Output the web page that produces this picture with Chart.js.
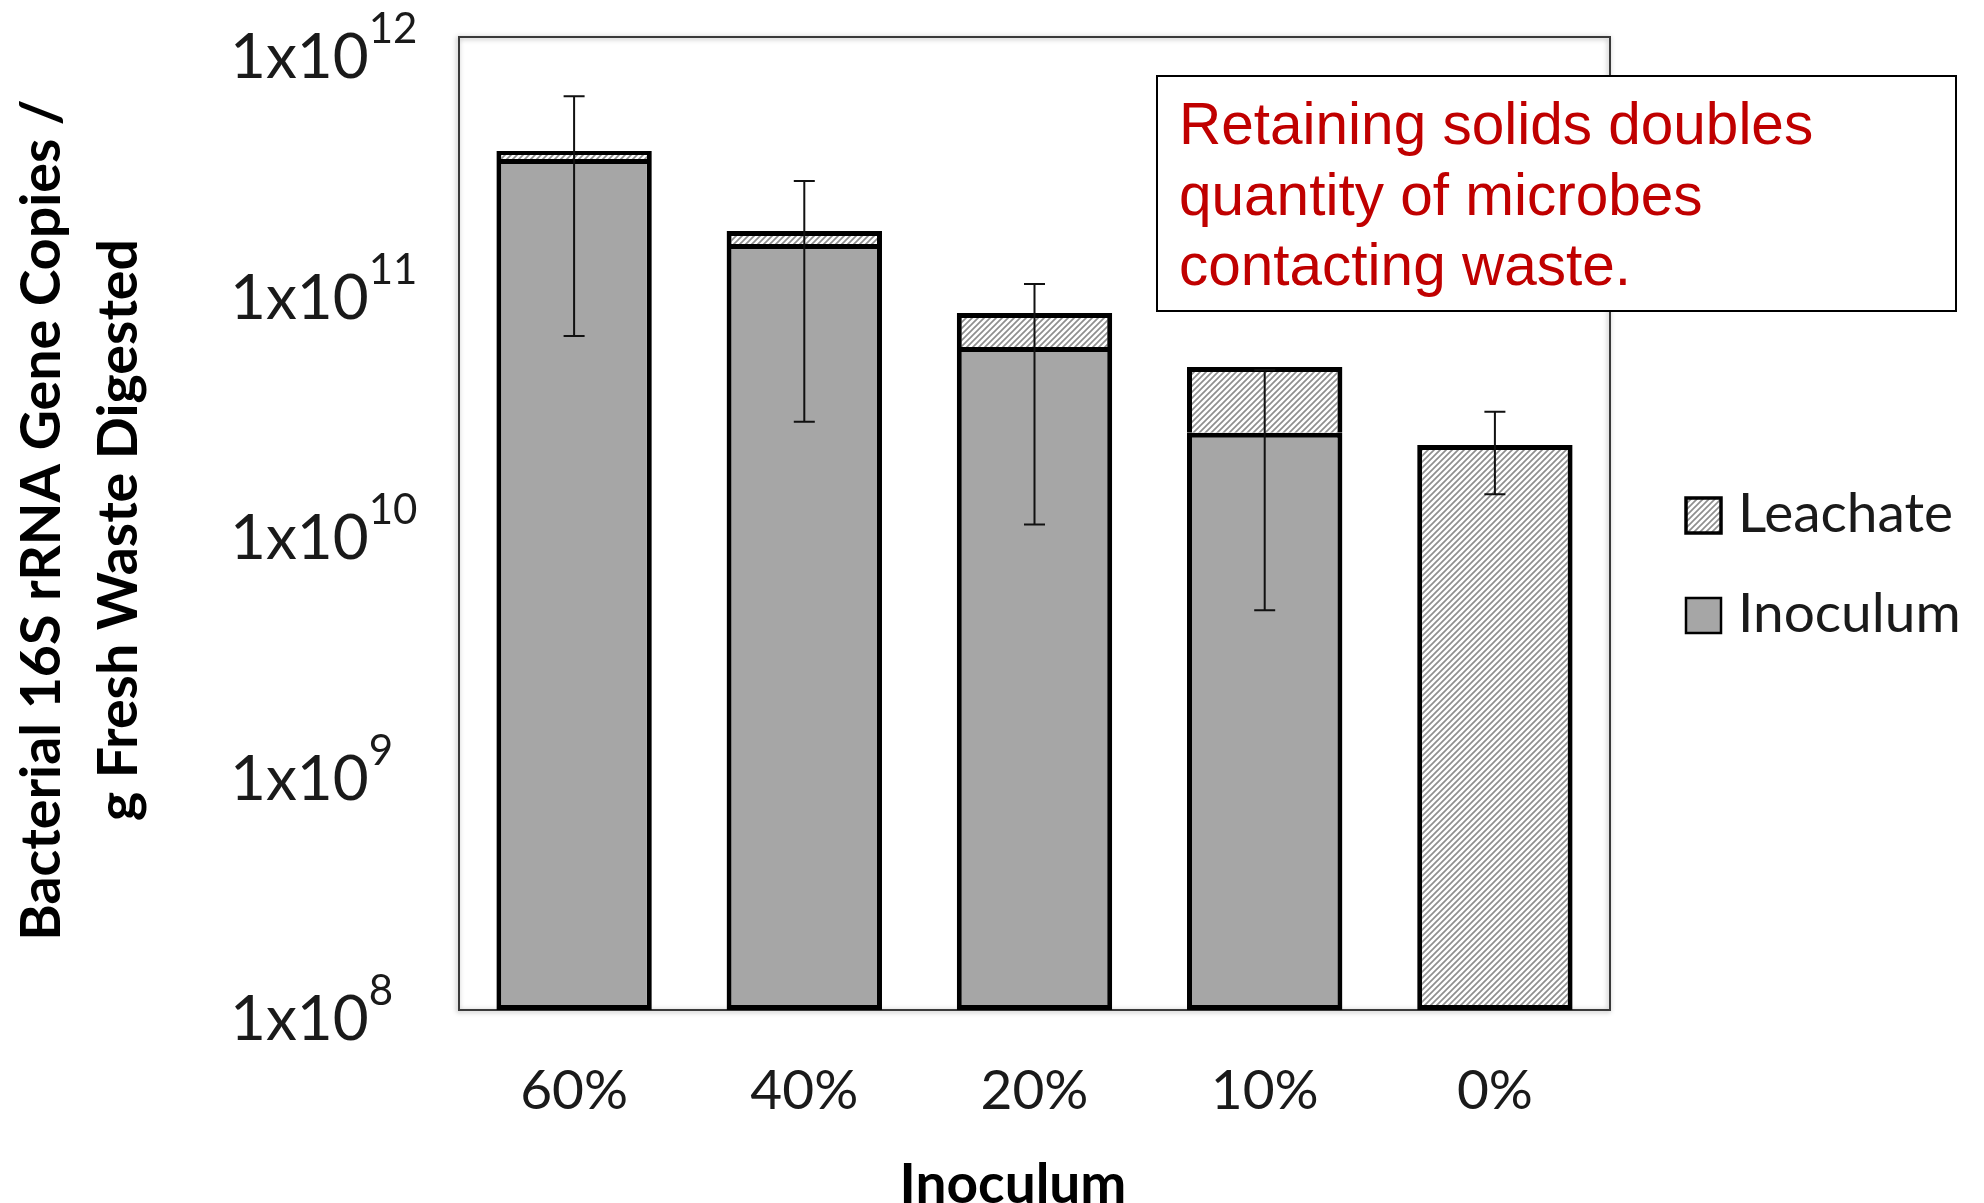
<!DOCTYPE html>
<html>
<head>
<meta charset="utf-8">
<title>Bacterial 16S rRNA gene copies by inoculum</title>
<script src="https://cdn.jsdelivr.net/npm/chart.js@4.4.1/dist/chart.umd.min.js"></script>
<style>
  html, body { margin: 0; padding: 0; background: #ffffff; }
  #wrap { width: 1984px; height: 1203px; position: relative; overflow: hidden; }
  canvas { display: block; }
</style>
</head>
<body>
<div id="wrap"><canvas id="chart" width="1984" height="1203"></canvas></div>
<script>
// ---- data ----
const categories = ['60%', '40%', '20%', '10%', '0%'];
const inoculum = [3.15e11, 1.41e11, 5.32e10, 2.36e10, null];
const leachate = [2.5e10, 1.85e10, 2.01e10, 2.04e10, 2.10e10];
// standard deviations, centred on the top of the segment they belong to
const inoculumErr = [2.56e11, 1.148e11, 4.33e10, 1.92e10, null];
const leachateErr = [null, null, null, null, 7.8e9];
const yTickExponents = [8, 9, 10, 11, 12];
const yTitleLines = ['Bacterial 16S rRNA Gene Copies /', 'g Fresh Waste Digested'];
const xTitle = 'Inoculum';
const legendLabels = ['Leachate', 'Inoculum'];
const noteLines = ['Retaining solids doubles', 'quantity of microbes', 'contacting waste.'];

const canvas = document.getElementById('chart');
const ctx = canvas.getContext('2d');

function makeHatch() {
  const t = document.createElement('canvas');
  t.width = 6; t.height = 6;
  const g = t.getContext('2d');
  g.fillStyle = '#ffffff';
  g.fillRect(0, 0, 6, 6);
  g.strokeStyle = '#8f8f8f';
  g.lineWidth = 1.7;
  g.beginPath();
  g.moveTo(-1, 7); g.lineTo(7, -1);
  g.moveTo(-1, 1); g.lineTo(1, -1);
  g.moveTo(5, 7); g.lineTo(7, 5);
  g.stroke();
  return ctx.createPattern(t, 'repeat');
}
const hatch = makeHatch();
const GREY = '#a6a6a6';
const TEXT = '#1a1a1a';

// plot frame with a soft drop shadow, behind the bars
const framePlugin = {
  id: 'frame',
  beforeDatasetsDraw(chart) {
    const { ctx, chartArea: a } = chart;
    ctx.save();
    ctx.shadowColor = 'rgba(0,0,0,0.35)';
    ctx.shadowBlur = 5;
    ctx.shadowOffsetX = -1;
    ctx.shadowOffsetY = 1;
    ctx.strokeStyle = '#3a3a3a';
    ctx.lineWidth = 2;
    ctx.strokeRect(a.left, a.top, a.right - a.left, a.bottom - a.top);
    ctx.restore();
  }
};

// error bars drawn from the value scale
const errorBarPlugin = {
  id: 'errorBars',
  afterDatasetsDraw(chart) {
    const { ctx } = chart;
    const y = chart.scales.y;
    const errs = [inoculumErr, leachateErr];
    ctx.save();
    ctx.strokeStyle = '#111';
    ctx.lineWidth = 2;
    errs.forEach((list, di) => {
      const meta = chart.getDatasetMeta(di);
      list.forEach((e, i) => {
        if (e == null) return;
        let centre = 0;
        for (let k = 0; k <= di; k++) {
          const v = chart.data.datasets[k].data[i];
          if (v != null) centre += v;
        }
        const x = meta.data[i].x;
        const yTop = y.getPixelForValue(centre + e);
        const yBot = y.getPixelForValue(Math.max(centre - e, y.min));
        const cap = 10.5;
        ctx.beginPath();
        ctx.moveTo(x, yTop); ctx.lineTo(x, yBot);
        ctx.moveTo(x - cap, yTop); ctx.lineTo(x + cap, yTop);
        ctx.moveTo(x - cap, yBot); ctx.lineTo(x + cap, yBot);
        ctx.stroke();
      });
    });
    ctx.restore();
  }
};

// axis labels, titles, legend and the note box
const textPlugin = {
  id: 'texts',
  afterDraw(chart) {
    const { ctx, chartArea: a } = chart;
    const x = chart.scales.x, y = chart.scales.y;
    ctx.save();
    ctx.fillStyle = TEXT;

    // y tick labels: 1x10 with superscript exponent
    yTickExponents.forEach(k => {
      const py = y.getPixelForValue(Math.pow(10, k));
      const base = py + 41 - (py - a.top) * 0.011;
      ctx.textAlign = 'left';
      ctx.textBaseline = 'alphabetic';
      ctx.font = '62px Lato';
      const w = ctx.measureText('1x10').width;
      ctx.fillText('1x10', 230, base);
      ctx.font = '42px Lato';
      ctx.fillText(String(k), 230 + w, base - 35);
    });

    // x tick labels
    ctx.font = '55px Lato';
    ctx.textAlign = 'center';
    categories.forEach((c, i) => {
      ctx.fillText(c, x.getPixelForValue(i), 1109);
    });

    // x title
    ctx.font = 'bold 55px Lato';
    ctx.fillStyle = '#000';
    ctx.fillText(xTitle, 1013, 1203);

    // y title, two rotated lines
    ctx.font = 'bold 55.5px Lato';
    const yLinePos = [[60, 520], [137, 530]];
    yTitleLines.forEach((t, i) => {
      ctx.save();
      ctx.translate(yLinePos[i][0], yLinePos[i][1]);
      ctx.rotate(-Math.PI / 2);
      ctx.textAlign = 'center';
      ctx.textBaseline = 'alphabetic';
      ctx.fillText(t, 0, 0);
      ctx.restore();
    });

    // legend
    const items = [
      { label: legendLabels[0], fill: hatch, line: 3.5, top: 498, base: 532 },
      { label: legendLabels[1], fill: GREY, line: 2.5, top: 598, base: 632 }
    ];
    items.forEach(it => {
      ctx.fillStyle = it.fill;
      ctx.fillRect(1686, it.top, 35, 35);
      ctx.strokeStyle = '#000';
      ctx.lineWidth = it.line;
      ctx.strokeRect(1686, it.top, 35, 35);
      ctx.fillStyle = TEXT;
      ctx.font = '55px Lato';
      ctx.textAlign = 'left';
      ctx.textBaseline = 'alphabetic';
      ctx.fillText(it.label, 1738, it.base);
    });

    // note box
    ctx.fillStyle = '#ffffff';
    ctx.fillRect(1157, 76, 799, 235);
    ctx.strokeStyle = '#000';
    ctx.lineWidth = 2;
    ctx.strokeRect(1157, 76, 799, 235);
    ctx.fillStyle = '#c00000';
    ctx.font = '58.5px "Liberation Sans", Arial, sans-serif';
    ctx.textAlign = 'left';
    const baselines = [144, 215, 285];
    noteLines.forEach((t, i) => ctx.fillText(t, 1179, baselines[i]));

    ctx.restore();
  }
};

new Chart(ctx, {
  type: 'bar',
  data: {
    labels: categories,
    datasets: [
      {
        label: legendLabels[1],
        data: inoculum,
        backgroundColor: GREY,
        borderColor: '#000',
        borderWidth: 5,
        borderSkipped: false
      },
      {
        label: legendLabels[0],
        data: leachate,
        backgroundColor: hatch,
        borderColor: '#000',
        borderWidth: 5,
        borderSkipped: c => (c.dataIndex === 4 ? false : 'bottom')
      }
    ]
  },
  options: {
    responsive: false,
    animation: false,
    devicePixelRatio: 1,
    layout: { padding: { left: 459, top: 37, right: 374, bottom: 193 } },
    datasets: { bar: { categoryPercentage: 1, barPercentage: 0.675 } },
    scales: {
      x: { display: false, stacked: true },
      y: { display: false, stacked: true, type: 'logarithmic', min: 1e8, max: 1e12 }
    },
    plugins: {
      legend: { display: false },
      tooltip: { enabled: false }
    }
  },
  plugins: [framePlugin, errorBarPlugin, textPlugin]
});
</script>
</body>
</html>
